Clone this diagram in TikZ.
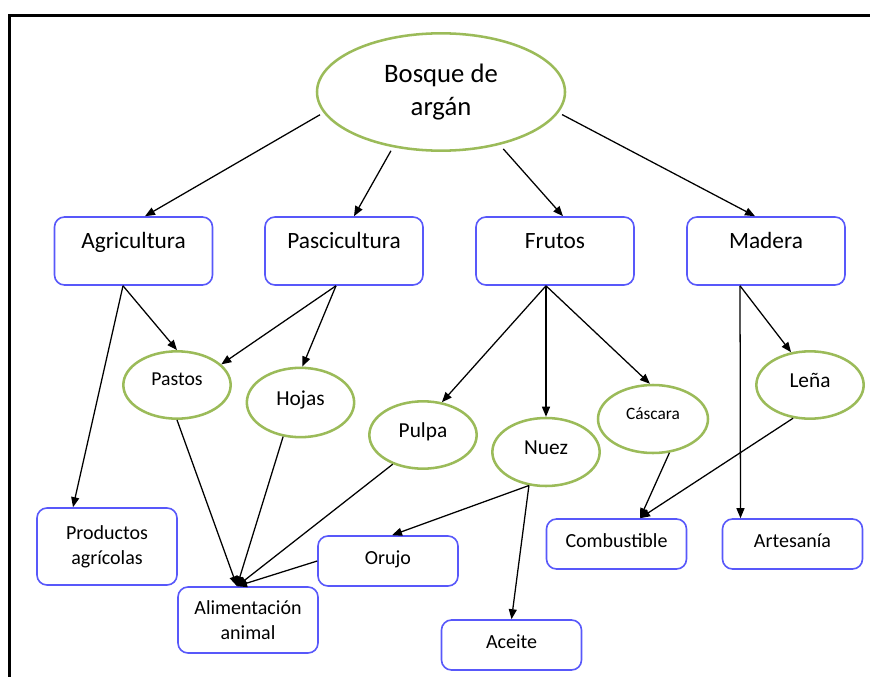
\documentclass[tikz,border=0pt]{standalone}
\usepackage{fontspec}
\setmainfont{Carlito}
\usetikzlibrary{shapes.geometric,calc,arrows.meta}
\definecolor{cajaazul}{RGB}{88,88,250}
\definecolor{elipseverde}{RGB}{155,187,89}

\tikzset{
  caja/.style={draw=cajaazul, line width=1.2pt, rounded corners=7.5pt, minimum width=105pt, minimum height=37.5pt, align=center, font=\fontsize{15}{18.75}\selectfont},
  cajaunica/.style={caja, text height=11pt, text depth=6pt},
  cajaalta/.style={caja, minimum width=118.5pt, inner ysep=0pt, text height=23.5pt, text depth=27.5pt, font=\fontsize{17.5}{21}\selectfont},
  elipse/.style={ellipse, draw=elipseverde, line width=1.9pt, inner sep=0pt, minimum width=80.5pt, minimum height=50.5pt, text height=11pt, text depth=7pt, font=\fontsize{16}{19}\selectfont},
  flecha/.style={-{Triangle[length=7.5pt,width=6pt]}, line width=0.95pt},
}

\begin{document}
\begin{tikzpicture}[x=0.75pt, y=-0.75pt]
                \useasboundingbox (0,0) rectangle (870,677);
                \draw[line width=1.9pt] (870,15.3) -- (9.7,15.3) -- (9.7,677);
                % raiz
                \node[elipse, minimum width=186pt, minimum height=88pt, text height=, text depth=, align=center, font=\fontsize{20}{24.5}\selectfont] (bosque) at (441, 92){Bosque de\\argán};
                % primera fila
                \node[cajaalta] (agri) at (133.5, 251){Agricultura};
                \node[cajaalta] (pasci) at (344, 251){Pascicultura};
                \node[cajaalta] (frutos) at (555, 251){Frutos};
                \node[cajaalta] (madera) at (766, 251){Madera};
                % elipses
                \node[elipse, text depth=11pt, font=\fontsize{14.8}{17}\selectfont] (pastos) at (177, 385){Pastos};
                \node[elipse, minimum height=52pt] (hojas) at (300.5, 402.5){Hojas};
                \node[elipse] (pulpa) at (423, 435){Pulpa};
                \node[elipse, minimum height=51pt] (nuez) at (546, 452){Nuez};
                \node[elipse, minimum width=82.5pt, minimum height=51pt, text depth=11pt, font=\fontsize{13}{15}\selectfont] (cascara) at (653, 419){Cáscara};
                \node[elipse] (lena) at (810, 385){Leña};
                % cajas de abajo
                \node[caja, minimum height=57.75pt] (productos) at (107, 546.5){Productos\\agrícolas};
                \node[caja, minimum height=49.5pt] (alim) at (248, 620){Alimentación\\animal};
                \node[cajaunica] (orujo) at (388, 561){Orujo};
                \node[cajaunica] (aceite) at (511.5, 645){Aceite};
                \node[cajaunica] (combus) at (616.5, 544){Combustible};
                \node[cajaunica] (artes) at (792.5, 544){Artesanía};
                \coordinate (alimin) at ($(alim.north)+(-11,0)$);
                % flechas
                \draw[flecha, shorten <=3pt] (bosque.190) -- ($(agri.north)+(11.5,0)$);
                \draw[flecha, shorten <=3pt] (bosque.229) -- ($(pasci.north)+(10,0)$);
                \draw[flecha, shorten <=4pt] (bosque.318) -- ($(frutos.north)+(8,0)$);
                \draw[flecha, shorten <=3pt] (bosque.350) -- ($(madera.north)+(-11,0)$);
                \draw[flecha] ($(agri.south)+(-10.5,0)$) -- (pastos.north);
                \draw[flecha] ($(agri.south)+(-10.5,0)$) -- ($(productos.north)+(-34,0)$);
                \draw[flecha] ($(pasci.south)+(-8,0)$) -- (pastos.25);
                \draw[flecha] ($(pasci.south)+(-8,0)$) -- (hojas.87);
                \draw[flecha] ($(frutos.south)+(-9,0)$) -- (pulpa.60);
                \draw[flecha] ($(frutos.south)+(-9,0)$) -- (nuez.north);
                \draw[flecha] ($(frutos.south)+(-9,0)$) -- (cascara.95);
                \draw[flecha] ($(madera.south)+(-26,0)$) -- (lena.120);
                \draw[flecha] ($(madera.south)+(-26,0)$) -- ($(artes.north)+(-52,0)$);
                \draw[flecha] (pastos.south) -- (alimin);
                \draw[flecha] (hojas.243) -- (alimin);
                \draw[flecha] (pulpa.224) -- (alimin);
                \draw[flecha] (orujo.west) -- (alimin);
                \draw[flecha] (nuez.243) -- ($(orujo.north)+(4,0)$);
                \draw[flecha] (nuez.243) -- (aceite.north);
                \draw[flecha] (cascara.296) -- ($(combus.north)+(23.5,0)$);
                \draw[flecha] (lena.243) -- ($(combus.north)+(23.5,0)$);
            \end{tikzpicture}
\end{document}
